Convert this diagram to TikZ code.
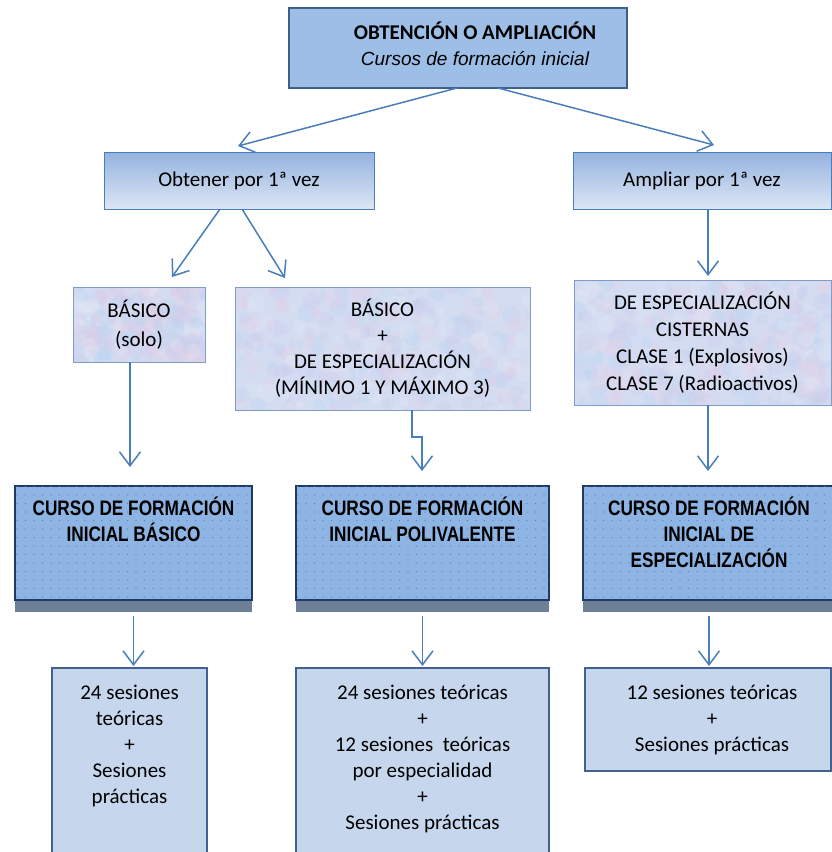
\documentclass[tikz,border=0pt]{standalone}
\usepackage{fontspec}
\setmainfont{Carlito}
\newfontfamily\arialf{Liberation Sans}
\newfontfamily\narrowf[FakeStretch=0.82]{Liberation Sans}
\usetikzlibrary{arrows.meta,patterns.meta,calc}
\definecolor{arrc}{HTML}{4A7EBB}
\definecolor{topfill}{HTML}{9DBEE6}
\definecolor{topborder}{HTML}{3E5F8A}
\definecolor{obtop}{HTML}{95B3E0}
\definecolor{obbot}{HTML}{DCE6F4}
\definecolor{obborder}{HTML}{4A7EBB}
\definecolor{texbase}{HTML}{D3DCF1}
\definecolor{texa}{HTML}{E4CFE8}
\definecolor{texb}{HTML}{BED6F1}
\definecolor{texc}{HTML}{E6E9F6}
\definecolor{texd}{HTML}{CFCBEB}
\definecolor{texborder}{HTML}{7F9BC6}
\definecolor{cursofill}{HTML}{8DB4E2}
\definecolor{dotc}{HTML}{4A80CE}
\definecolor{cursoborder}{HTML}{1F3A66}
\definecolor{shadowc}{HTML}{6E8097}
\definecolor{botfill}{HTML}{C6D6EC}
\definecolor{botlight}{HTML}{E2E9F5}
\definecolor{botborder}{HTML}{41628F}
\pgfdeclareverticalshading{botshade}{100bp}{color(0bp)=(botlight); color(18bp)=(botfill); color(100bp)=(botfill)}
\newcommand\mytex[4]{%
 \begin{scope}
 \clip (#1,#2) rectangle (#3,#4);
 \fill[texbase] (#1,#2) rectangle (#3,#4);
 \foreach \k in {1,...,320}{%
  \pgfmathsetmacro\tpx{#1+(#3-#1)*rnd}%
  \pgfmathsetmacro\tpy{#2+(#4-#2)*rnd}%
  \pgfmathsetmacro\tpr{3+7*rnd}%
  \pgfmathtruncatemacro\tpc{mod(\k,4)}%
  \ifcase\tpc\relax
   \fill[texa,opacity=.3] (\tpx,\tpy) circle[radius=\tpr pt];
  \or \fill[texb,opacity=.3] (\tpx,\tpy) circle[radius=\tpr pt];
  \or \fill[texc,opacity=.25] (\tpx,\tpy) circle[radius=\tpr pt];
  \or \fill[texd,opacity=.25] (\tpx,\tpy) circle[radius=\tpr pt];
  \fi}%
 \end{scope}}
\begin{document}
\begin{tikzpicture}[x=1pt,y=-1pt,
 box/.style={anchor=north west, inner sep=0pt, outer sep=0pt, align=center, font=\fontsize{21}{26}\selectfont},
 gradbox/.style={box, draw=obborder, line width=1pt, top color=obtop, bottom color=obbot},
 texbox/.style={box, draw=texborder, line width=1pt},
 cursobox/.style={anchor=north west, inner sep=0pt, outer sep=0pt, draw=cursoborder, line width=2pt, fill=cursofill,
   postaction={pattern={Dots[distance=8.5pt,radius=0.7pt]}, pattern color=dotc}},
 cursotext/.style={anchor=north, inner sep=0pt, align=center, font=\narrowf\bfseries\fontsize{21}{26}\selectfont},
 botbox/.style={anchor=north west, inner sep=0pt, outer sep=0pt, draw=botborder, line width=1.2pt, shade, shading=botshade},
 bottext/.style={anchor=north, inner sep=0pt, align=center, font=\fontsize{21}{26}\selectfont},
 arr/.style={draw=arrc, line width=1.5pt, -{Straight Barb[length=14pt,width=21pt]}}
]
\pgfmathsetseed{1234}
\clip (0,0) rectangle (832,852);
\fill[white] (0,0) rectangle (832,852);

% top
\node[box, draw=topborder, line width=1.3pt, fill=topfill, minimum width=338pt, minimum height=80pt] (top) at (289,8) {};
\node[inner sep=0pt, align=center, font=\fontsize{21}{26}\selectfont] (topt) at ([xshift=17pt,yshift=4pt]top.center)
 {\bfseries OBTENCIÓN O AMPLIACIÓN\\{\arialf\itshape\fontsize{19}{26}\selectfont Cursos de formación inicial}};

% level 2
\node[gradbox, minimum width=270pt, minimum height=57pt] (ob) at (104,152) {Obtener por 1ª vez};
\node[gradbox, minimum width=258pt, minimum height=57pt] (amp) at (573,152) {Ampliar por 1ª vez};

% textured boxes
\mytex{73}{287}{205}{362}
\node[texbox, minimum width=132pt, minimum height=75pt] (bas1) at (73,287) {BÁSICO\\[3pt](solo)};
\mytex{235}{287}{530}{410}
\node[texbox, minimum width=295pt, minimum height=123pt] (bas2) at (235,287)
 {BÁSICO\\+\\DE ESPECIALIZACIÓN\\(MÍNIMO 1 Y MÁXIMO 3)};
\mytex{574}{280}{831}{405}
\node[texbox, minimum width=257pt, minimum height=125pt, font=\fontsize{21}{27}\selectfont] (esp) at (574,280)
 {DE ESPECIALIZACIÓN\\CISTERNAS\\CLASE 1 (Explosivos)\\CLASE 7 (Radioactivos)};

% curso boxes
\node[cursobox, minimum width=237pt, minimum height=114pt] (c1) at (15,486) {};
\node[cursobox, minimum width=253pt, minimum height=114pt] (c2) at (296,486) {};
\node[cursobox, minimum width=252pt, minimum height=114pt] (c3) at (583,486) {};
\foreach \c in {c1,c2,c3}{\fill[shadowc] ([yshift=-1pt]\c.south west) rectangle ([yshift=-12pt]\c.south east);}
\node[cursotext] (c1t) at ([yshift=-11pt]c1.north) {CURSO DE FORMACIÓN\\INICIAL BÁSICO};
\node[cursotext] (c2t) at ([yshift=-11pt]c2.north) {CURSO DE FORMACIÓN\\INICIAL POLIVALENTE};
\node[cursotext] (c3t) at ([yshift=-11pt]c3.north) {CURSO DE FORMACIÓN\\INICIAL DE\\ESPECIALIZACIÓN};

% bottom boxes
\node[botbox, minimum width=155pt, minimum height=190pt] (b1) at (52,668) {};
\node[botbox, minimum width=253pt, minimum height=195pt] (b2) at (296,668) {};
\node[botbox, minimum width=246pt, minimum height=103pt] (b3) at (585,668) {};
\node[bottext] (b1t) at ([yshift=-17pt]b1.north) {24 sesiones\\teóricas\\+\\Sesiones\\prácticas};
\node[bottext] (b2t) at ([yshift=-17pt]b2.north) {24 sesiones teóricas\\+\\12 sesiones\ \ teóricas\\por especialidad\\+\\Sesiones prácticas};
\node[bottext] (b3t) at ([xshift=4pt,yshift=-17pt]b3.north) {12 sesiones teóricas\\+\\Sesiones prácticas};

% arrows
\coordinate (tA) at (238,146);
\coordinate (tB) at (714,145);
\draw[arr] ([xshift=-1pt]top.south) -- (tA);
\draw[arr] ([xshift=40pt]top.south) -- (tB);
\coordinate (tL) at (172,277);
\coordinate (tR) at (285,278);
\draw[arr] ([xshift=-19pt]ob.south) -- (tL);
\draw[arr] ([xshift=3pt]ob.south) -- (tR);
\coordinate (tC) at (708,276);
\draw[arr] (tC |- amp.south) -- (tC);
\coordinate (tD) at (130,467);
\draw[arr] (tD |- bas1.south) -- (tD);
\coordinate (tE) at (422,471);
\draw[arr] ([xshift=29.5pt]bas2.south) -- ++(0,27) -| (tE);
\coordinate (tF) at (708,471);
\draw[arr] (tF |- esp.south) -- (tF);
\foreach \c in {c1,c2,c3}{\draw[arr] ($(\c.south)+(0,16)$) -- ($(\c.south)+(0,66)$);}
\end{tikzpicture}
\end{document}
